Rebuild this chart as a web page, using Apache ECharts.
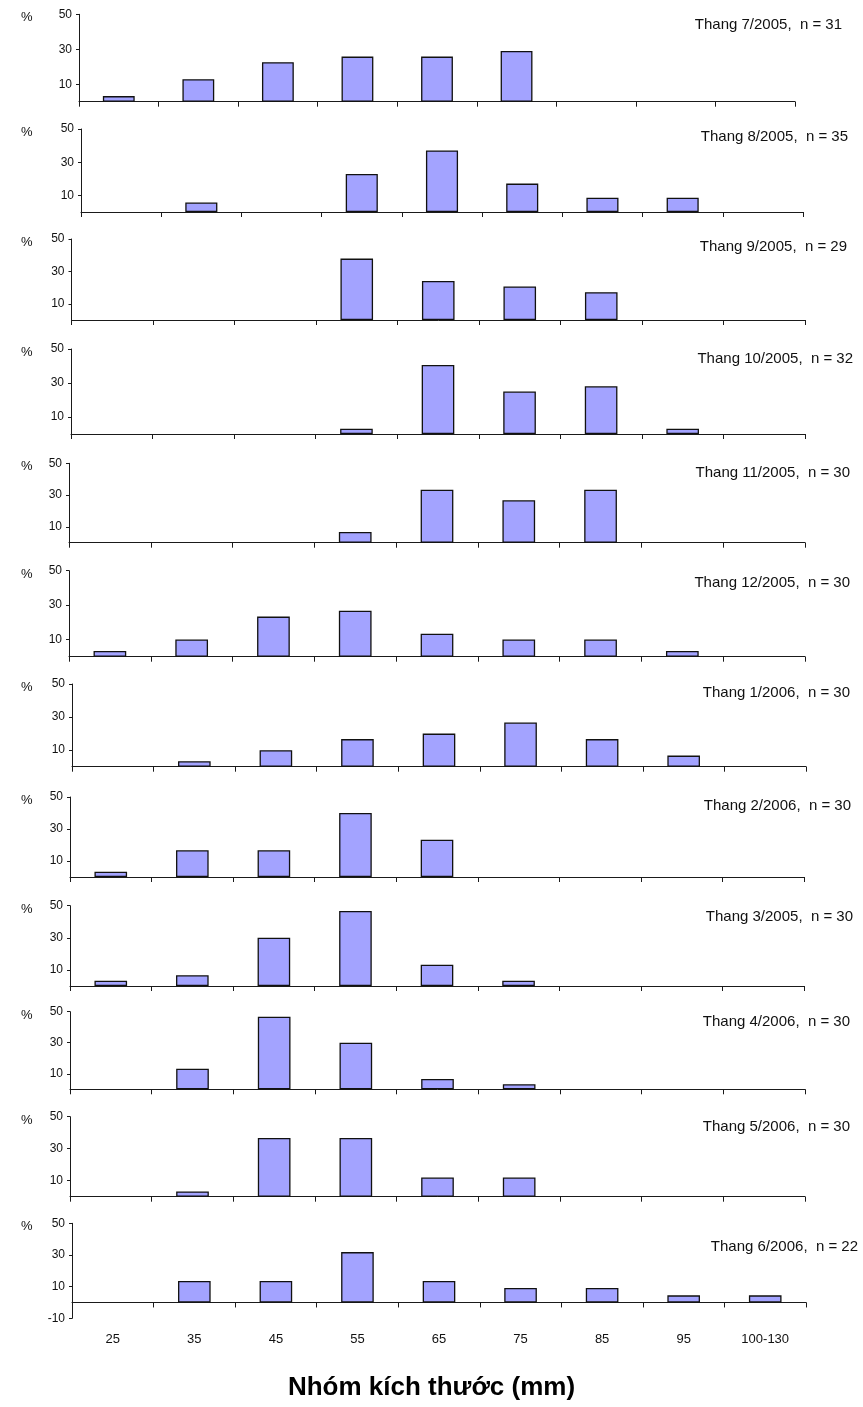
<!DOCTYPE html>
<html>
<head>
<meta charset="utf-8">
<title>Nhóm kích thước</title>
<script src="https://cdn.jsdelivr.net/npm/echarts@6/dist/echarts.min.js"></script>
<style>
  html, body { margin: 0; padding: 0; background: #fff; }
  #sizeChart { width: 863px; height: 1407px; }
</style>
</head>
<body>
<div id="sizeChart"></div>
<script>
// size classes (mm)
const sizeGroups = ['25', '35', '45', '55', '65', '75', '85', '95', '100-130'];

// % per size class, one array per sampling month
const thang07_2005 = [3.2, 12.9, 22.6, 25.8, 25.8, 29.0, 0, 0, 0];
const thang08_2005 = [0, 5.7, 0, 22.9, 37.1, 17.1, 8.6, 8.6, 0];
const thang09_2005 = [0, 0, 0, 37.9, 24.1, 20.7, 17.2, 0, 0];
const thang10_2005 = [0, 0, 0, 3.1, 40.6, 25.0, 28.1, 3.1, 0];
const thang11_2005 = [0, 0, 0, 6.7, 33.3, 26.7, 33.3, 0, 0];
const thang12_2005 = [3.3, 10.0, 23.3, 26.7, 13.3, 10.0, 10.0, 3.3, 0];
const thang01_2006 = [0, 3.3, 10.0, 16.7, 20.0, 26.7, 16.7, 6.7, 0];
const thang02_2006 = [3.3, 16.7, 16.7, 40.0, 23.3, 0, 0, 0, 0];
const thang03_2005 = [3.3, 6.7, 30.0, 46.7, 13.3, 3.3, 0, 0, 0];
const thang04_2006 = [0, 13.3, 46.7, 30.0, 6.7, 3.3, 0, 0, 0];
const thang05_2006 = [0, 3.3, 36.7, 36.7, 12.0, 12.0, 0, 0, 0];
const thang06_2006 = [0, 13.6, 13.6, 31.8, 13.6, 9.1, 9.1, 4.5, 4.5];

const panelTitles = [
  'Thang 7/2005,  n = 31', 'Thang 8/2005,  n = 35', 'Thang 9/2005,  n = 29',
  'Thang 10/2005,  n = 32', 'Thang 11/2005,  n = 30', 'Thang 12/2005,  n = 30',
  'Thang 1/2006,  n = 30', 'Thang 2/2006,  n = 30', 'Thang 3/2005,  n = 30',
  'Thang 4/2006,  n = 30', 'Thang 5/2006,  n = 30', 'Thang 6/2006,  n = 22',
];
const panelData = [
  thang07_2005, thang08_2005, thang09_2005, thang10_2005, thang11_2005, thang12_2005,
  thang01_2006, thang02_2006, thang03_2005, thang04_2006, thang05_2006, thang06_2006,
];
const yTicks = [10, 30, 50];
const yTicksLast = [-10, 10, 30, 50];
const xAxisTitle = 'Nhóm kích thước (mm)';

// layout: [left, y of top (50), y of bottom, right end of x axis, title right, title middle]
const boxes = [
  [79, 14.3, 101.7, 795, 842, 26],
  [81, 129, 212, 803, 848, 138],
  [71.5, 239, 320, 805, 847, 248],
  [71, 349, 434, 805, 853, 360],
  [69, 463.3, 542.7, 805, 850, 474],
  [69, 570.7, 656.7, 805, 850, 584],
  [72, 684, 766.7, 806, 850, 694],
  [70, 797, 877, 804, 851, 807],
  [70, 905.7, 986, 804, 853, 918],
  [70, 1011.7, 1089.3, 805, 850, 1023],
  [70, 1116.7, 1196.7, 805, 850, 1128],
  [72, 1223.3, 1318.3, 806, 858, 1248],
];

const W = 863;
const font = '"Liberation Sans", Arial, sans-serif';
const axisColor = '#1a1a1a';

const grid = [];
const xAxis = [];
const yAxis = [];
const series = [];
const title = [];

panelData.forEach((vals, i) => {
  const [left, top, bottom, right, tRight, tMid] = boxes[i];
  const isLast = i === panelData.length - 1;
  grid.push({ left, top, width: right - left, height: bottom - top });
  xAxis.push({
    gridIndex: i,
    type: 'category',
    data: sizeGroups,
    boundaryGap: true,
    axisLine: { show: true, lineStyle: { color: axisColor, width: 1 } },
    axisTick: { show: true, interval: 0, length: 5, lineStyle: { color: axisColor, width: 1 } },
    axisLabel: {
      show: isLast,
      interval: 0,
      margin: 15,
      fontSize: 13,
      color: '#111',
      fontFamily: font,
    },
  });
  yAxis.push({
    gridIndex: i,
    type: 'value',
    min: isLast ? -10 : 0,
    max: 50,
    interval: isLast ? 20 : undefined,
    axisLine: { show: true, lineStyle: { color: axisColor, width: 1 } },
    axisTick: { show: true, length: 3, customValues: isLast ? yTicksLast : yTicks, lineStyle: { color: axisColor } },
    axisLabel: {
      customValues: isLast ? yTicksLast : yTicks,
      fontSize: 12,
      color: '#111',
      margin: 7,
      fontFamily: font,
    },
    splitLine: { show: false },
  });
  series.push({
    type: 'bar',
    xAxisIndex: i,
    yAxisIndex: i,
    // empty classes are left out so no flat outline sits on the axis
    data: vals.map(v => (v === 0 ? '-' : v)),
    barWidth: '40%',
    itemStyle: { color: '#a3a3ff', borderColor: '#111', borderWidth: 1.3 },
  });
  title.push({
    text: panelTitles[i],
    right: W - tRight,
    top: tMid - 9,
    padding: 0,
    textStyle: { fontSize: 15, fontWeight: 'normal', color: '#111', fontFamily: font },
  });
  title.push({
    text: '%',
    left: 21,
    top: top - 3,
    padding: 0,
    textStyle: { fontSize: 13, fontWeight: 'normal', color: '#111', fontFamily: font },
  });
});

title.push({
  text: xAxisTitle,
  left: 'center',
  top: 1375,
  padding: 0,
  textStyle: { fontSize: 26, fontWeight: 'bold', color: '#000', fontFamily: font },
});

const chart = echarts.init(document.getElementById('sizeChart'));
chart.setOption({
  animation: false,
  backgroundColor: '#fff',
  title,
  grid,
  xAxis,
  yAxis,
  series,
});
window.addEventListener('resize', () => {
  chart.resize();
});
</script>
</body>
</html>
